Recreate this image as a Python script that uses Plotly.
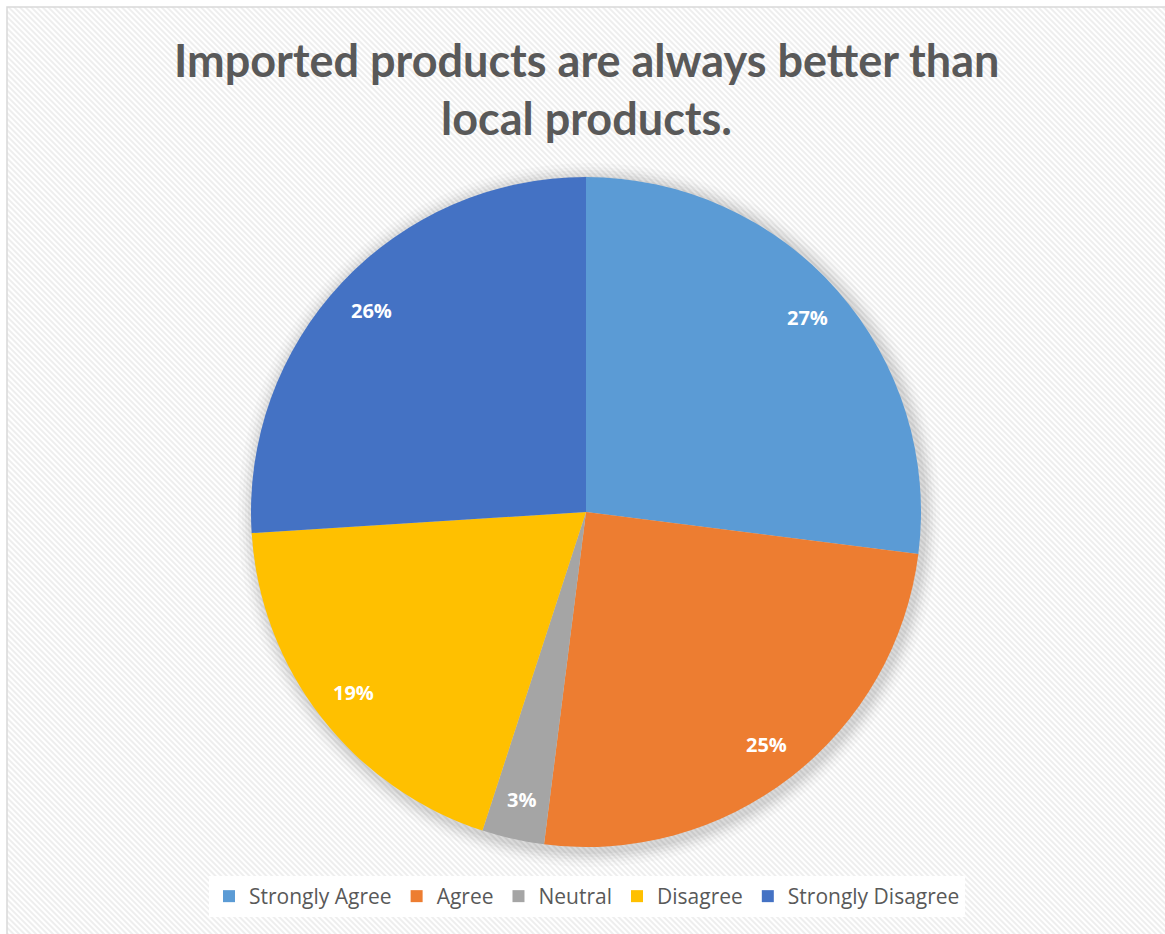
import base64
import math
import plotly.graph_objects as go

# ---- data ----
categories = ["Strongly Agree", "Agree", "Neutral", "Disagree", "Strongly Disagree"]
values = [27, 25, 3, 19, 26]
colors = ["#5B9BD5", "#ED7D31", "#A5A5A5", "#FFC000", "#4472C4"]
title_lines = ["Imported products are always better than", "local products."]

# ---- layout constants (pixels) ----
W, H = 1165, 934
cx, cy, R = 586, 512, 335  # pie centre/radius measured from top-left

def px_x(x):
    return x / W

def px_y(y):
    return 1 - y / H

fig = go.Figure()

fig.add_trace(go.Pie(
    labels=categories,
    values=values,
    marker=dict(colors=colors, line=dict(width=0)),
    sort=False,
    direction="clockwise",
    rotation=0,
    textinfo="none",
    hoverinfo="label+percent",
    domain=dict(x=[px_x(cx - R), px_x(cx + R)], y=[px_y(cy + R), px_y(cy - R)]),
))

# percentage labels placed along each slice's mid angle
total = sum(values)
cum = 0
annotations = []
for v in values:
    mid = (cum + v / 2) / total
    ang = math.radians(90 - 360 * mid)
    r = 0.88 * R
    x = cx + r * math.cos(ang)
    y = cy - r * math.sin(ang)
    annotations.append(dict(
        x=px_x(x), y=px_y(y), xref="paper", yref="paper",
        text=f"<b>{round(100 * v / total)}%</b>", showarrow=False,
        font=dict(family="Open Sans", size=20, color="white"),
        xanchor="center", yanchor="middle",
    ))
    cum += v

# title lines
for i, line in enumerate(title_lines):
    annotations.append(dict(
        x=px_x(587), y=px_y(60 + 58 * i), xref="paper", yref="paper",
        text=f"<b>{line}</b>", showarrow=False,
        font=dict(family="Lato", size=45, color="#595959"),
        xanchor="center", yanchor="middle",
    ))

# hatched background as an SVG pattern
bw, bh = W - 7, H - 7
svg = f'''<svg xmlns="http://www.w3.org/2000/svg" width="{bw}" height="{bh}" viewBox="0 0 {bw} {bh}">
<defs><pattern id="p" patternUnits="userSpaceOnUse" width="4" height="4" patternTransform="rotate(-45)">
<rect width="4" height="4" fill="#ffffff"/><rect width="2" height="4" fill="#eeeeee"/></pattern></defs>
<rect width="{bw}" height="{bh}" fill="url(#p)"/></svg>'''
src = "data:image/svg+xml;base64," + base64.b64encode(svg.encode()).decode()

shapes = []
# soft shadow around pie
for d, op in [(16, 0.02), (12, 0.025), (9, 0.03), (6, 0.035), (3, 0.04)]:
    shapes.append(dict(
        type="circle", xref="paper", yref="paper", layer="below",
        x0=px_x(cx - R - d + 3), x1=px_x(cx + R + d + 3),
        y0=px_y(cy + R + d + 4), y1=px_y(cy - R - d + 2),
        fillcolor=f"rgba(0,0,0,{op})", line=dict(width=0),
    ))
# border
shapes.append(dict(
    type="rect", xref="paper", yref="paper", layer="below",
    x0=px_x(7), x1=px_x(W + 5), y0=px_y(H + 5), y1=px_y(7),
    line=dict(color="#d9d9d9", width=1.5), fillcolor="rgba(0,0,0,0)",
))

fig.update_layout(
    width=W, height=H,
    margin=dict(l=0, r=0, t=0, b=0),
    paper_bgcolor="white",
    showlegend=True,
    legend=dict(
        orientation="h", x=px_x(587), xanchor="center",
        y=px_y(876), yanchor="top",
        bgcolor="white",
        font=dict(family="Open Sans", size=21, color="#595959"),
        itemsizing="constant",
        traceorder="normal",
    ),
    images=[dict(
        source=src, xref="paper", yref="paper",
        x=px_x(7), y=px_y(7), sizex=bw / W, sizey=bh / H,
        xanchor="left", yanchor="top", sizing="stretch", layer="below",
    )],
    shapes=shapes,
    annotations=annotations,
)

fig.write_html("out.html")
